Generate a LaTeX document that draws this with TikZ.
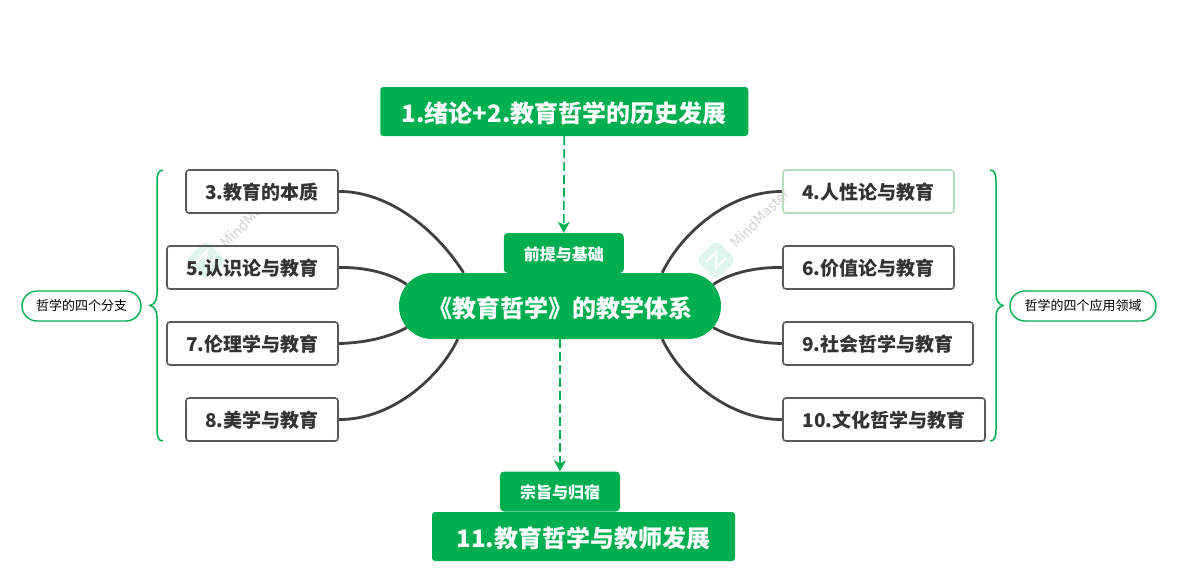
\documentclass[tikz,border=0pt]{standalone}
\usepackage{fontspec}
\setmainfont{Noto Sans CJK SC}
\usetikzlibrary{shapes.misc, arrows.meta, backgrounds}
\definecolor{mygreen}{HTML}{00AF50}
\definecolor{myink}{HTML}{333333}
\definecolor{mypale}{HTML}{B4DDBE}
\tikzset{
  topic/.style={fill=mygreen, text=white, rounded corners=3pt, font=\fontsize{24}{28}\selectfont\bfseries, minimum height=49pt, inner sep=0pt, text height=24pt, text depth=3pt},
  tag/.style={fill=mygreen, text=white, rounded corners=4pt, font=\fontsize{16}{20}\selectfont\bfseries, minimum width=120pt, minimum height=40pt, inner sep=0pt, text height=16pt, text depth=2pt},
  branch/.style={draw=black!65, line width=1.6pt, fill=white, text=myink, rounded corners=3pt, font=\fontsize{19}{23}\selectfont\bfseries, minimum height=43pt, inner sep=0pt, text height=18.5pt, text depth=2.5pt},
  note/.style={draw=mygreen, line width=1.4pt, fill=white, text=black, rounded rectangle, font=\fontsize{13}{16}\selectfont, minimum height=30pt, inner sep=0pt},
  link/.style={draw=black!75, line width=2.8pt},
  dashlink/.style={draw=mygreen, line width=1.6pt, dash pattern=on 9pt off 4pt, -{Stealth[length=11pt,width=12pt,inset=3pt]}},
  bracket/.style={draw=mygreen, line width=1.5pt},
  wmark/.style={text=black!18, rotate=45, font=\fontsize{14}{17}\selectfont},
  wlogo/.style={fill=mygreen, opacity=0.12, rounded corners=5pt},
  wline/.style={draw=white, line width=2.5pt, opacity=0.8}
}
\begin{document}
\begin{tikzpicture}[x=1pt,y=-1pt]
\useasboundingbox (0,0) rectangle (1178,582);
% watermark
\node[wmark] at (250,218) {MindMaster};
\fill[wlogo] (206,240) -- (226,260) -- (206,280) -- (186,260) -- cycle;
\draw[wline] (196,262) -- (206,252) -- (206,268) -- (216,258);
% main topics
\node[topic, minimum width=368pt] (intro) at (564.25,111.5) {1.绪论+2.教育哲学的历史发展};
\node[tag] (basis) at (563.75,253) {前提与基础};
\node[fill=mygreen, text=white, rounded rectangle, font=\fontsize{24}{28}\selectfont\bfseries, minimum width=322pt, minimum height=66pt, inner sep=0pt, text height=25pt, text depth=3pt] (centre) at (560,306) {《教育哲学》的教学体系};
\node[tag] (aim) at (560,491.5) {宗旨与归宿};
\node[topic, minimum width=303pt] (teacher) at (583.5,536.5) {11.教育哲学与教师发展};
% left side
\node[branch, minimum width=152pt] (essence) at (262,191.5) {3.教育的本质};
\node[branch, fill=none, minimum width=171pt] (episteme) at (252.5,267.5) {5.认识论与教育};
\node[branch, minimum width=171pt] (ethics) at (252.5,343.5) {7.伦理学与教育};
\node[branch, minimum width=152pt] (beauty) at (262,419.5) {8.美学与教育};
% right side
\node[branch, draw=mypale, minimum width=171pt] (human) at (868.5,191.5) {4.人性论与教育};
\node[branch, minimum width=171pt] (value) at (868.5,267.5) {6.价值论与教育};
\node[branch, minimum width=190pt] (society) at (878,343.5) {9.社会哲学与教育};
\node[branch, minimum width=202pt] (culture) at (884,419.5) {10.文化哲学与教育};
\node[note, minimum width=119pt] (branches) at (81.5,306) {哲学的四个分支};
\node[note, minimum width=146pt] (fields) at (1083,306) {哲学的四个应用领域};
% watermark, right one
\node[wmark] at (760,218) {MindMaster};
\fill[wlogo] (716,240) -- (736,260) -- (716,280) -- (696,260) -- cycle;
\draw[wline] (706,262) -- (716,252) -- (716,268) -- (726,258);
\begin{scope}[on background layer]
\draw[link] (essence.east) .. controls (390,191) and (438,232) .. (centre.161.6);
\draw[link] (episteme.east) .. controls (365,267) and (390,273) .. (centre.172);
\draw[link] (ethics.east) .. controls (365,343) and (390,337) .. (centre.188);
\draw[link] (beauty.east) .. controls (390,420) and (438,380) .. (centre.198.4);
\draw[link] (human.west) .. controls (730,191) and (682,232) .. (centre.18.4);
\draw[link] (value.west) .. controls (755,267) and (730,273) .. (centre.8);
\draw[link] (society.west) .. controls (755,343) and (730,337) .. (centre.-8);
\draw[link] (culture.west) .. controls (730,420) and (682,380) .. (centre.-18.4);
\end{scope}
\draw[dashlink] (intro.south) -- (basis.north);
\draw[dashlink] (centre.south) -- (aim.north);
% braces
\draw[bracket] (163,170) .. controls (158,170) and (157,175) .. (157,182) -- (157,293) .. controls (157,300) and (155,304) .. (150,305.5) .. controls (155,307) and (157,311) .. (157,318) -- (157,429) .. controls (157,436) and (158,441) .. (163,441);
\draw[bracket] (990,170) .. controls (995,170) and (996,175) .. (996,182) -- (996,293) .. controls (996,300) and (998,304) .. (1003,305.5) .. controls (998,307) and (996,311) .. (996,318) -- (996,429) .. controls (996,436) and (995,441) .. (990,441);
\end{tikzpicture}
\end{document}
